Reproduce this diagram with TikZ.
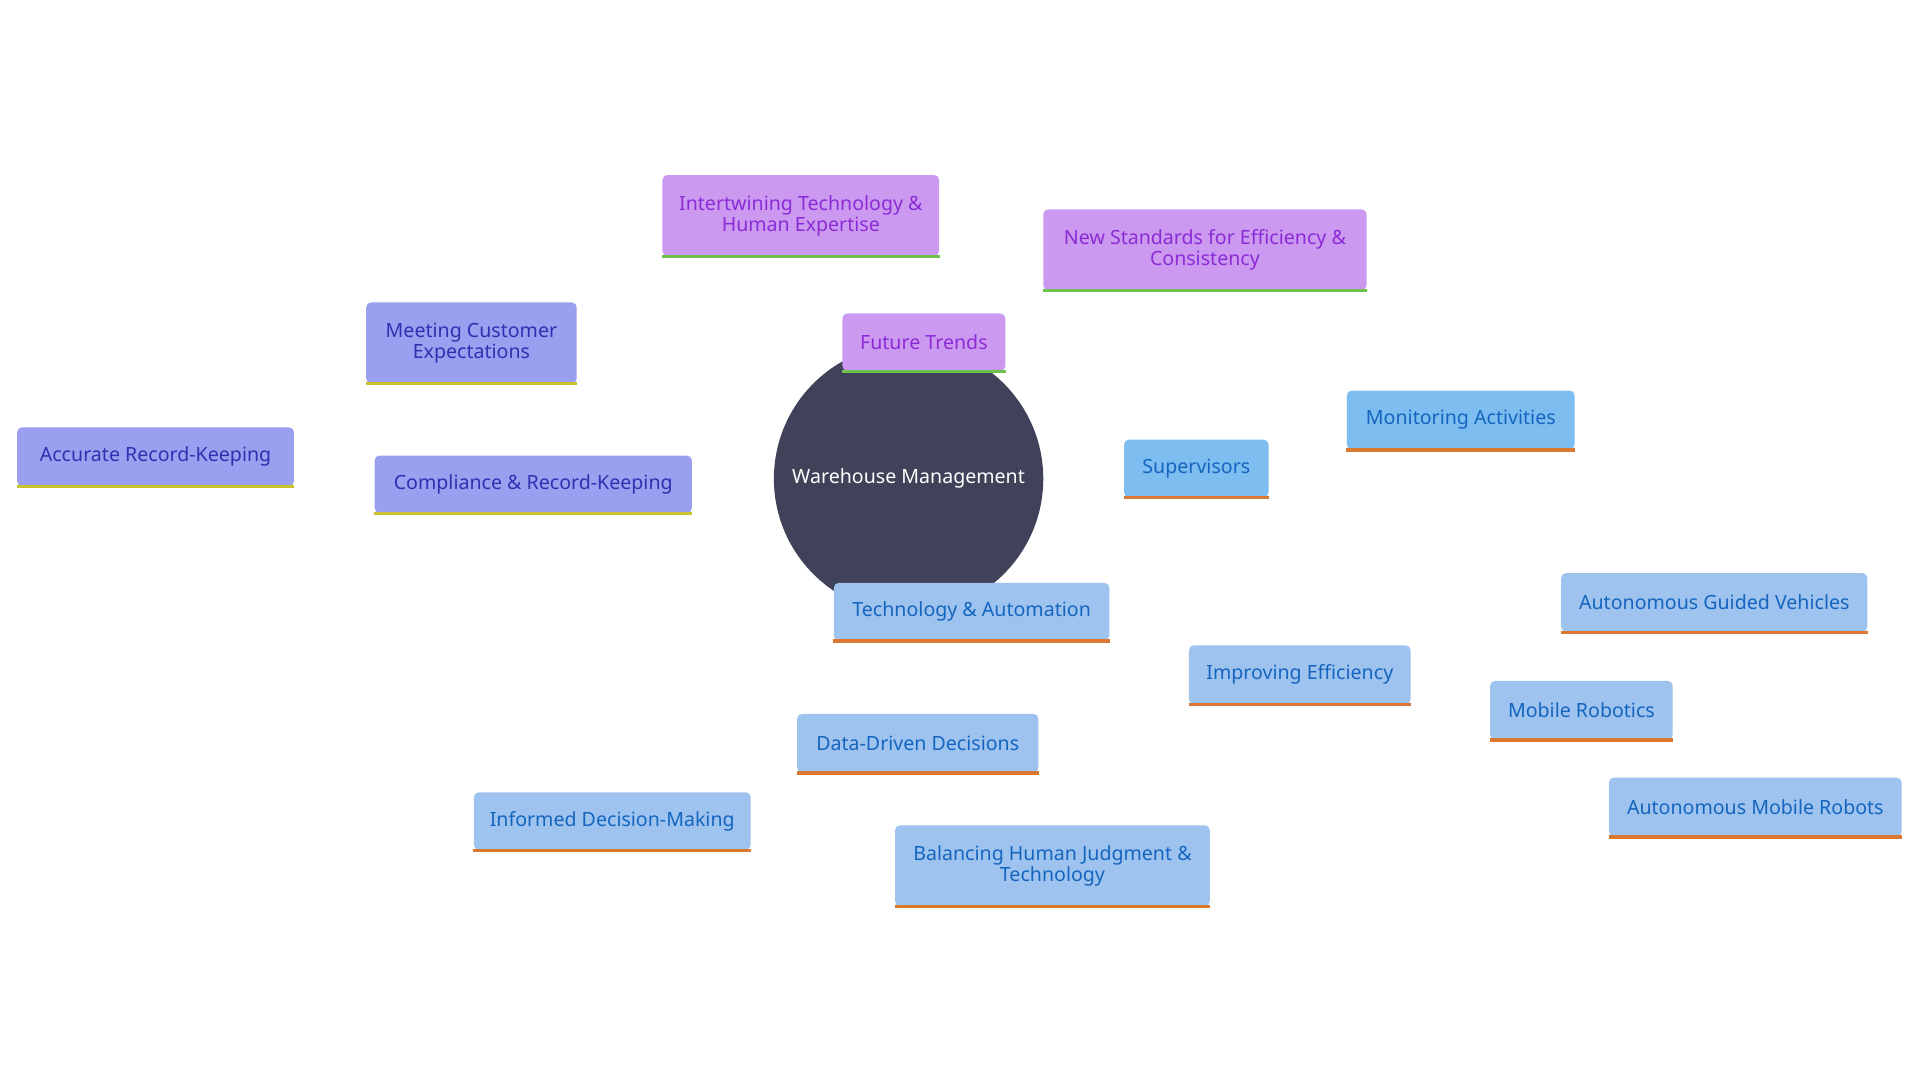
\documentclass[tikz,border=0pt]{standalone}
\usepackage{fontspec}
\setmainfont{Noto Sans}
\usetikzlibrary{backgrounds}
\definecolor{rootfill}{HTML}{3F4259}
\definecolor{purfill}{HTML}{CC99F0}
\definecolor{purtext}{HTML}{8B2BD6}
\definecolor{purline}{HTML}{CDA4F0}
\definecolor{greenbar}{HTML}{6CC24A}
\definecolor{supfill}{HTML}{7DBDEF}
\definecolor{techfill}{HTML}{9DC3EE}
\definecolor{bluetext}{HTML}{1565C0}
\definecolor{orangebar}{HTML}{D9782E}
\definecolor{compfill}{HTML}{9B9FF0}
\definecolor{comptext}{HTML}{3030B0}
\definecolor{yellowbar}{HTML}{C9C22E}

\tikzset{
  box/.style={rectangle, rounded corners=2pt, inner sep=0pt, align=center,
    font=\fontsize{8}{8.6}\selectfont},
  purbox/.style={box, fill=purfill, text=purtext},
  supbox/.style={box, fill=supfill, text=bluetext},
  techbox/.style={box, fill=techfill, text=bluetext},
  compbox/.style={box, fill=compfill, text=comptext},
  link/.style={line width=1.5pt},
  bar/.style={line width=1.4pt}
}

\begin{document}
\begin{tikzpicture}[x=0.5pt,y=-0.5pt]
\useasboundingbox[fill=white] (0,0) rectangle (1568,882);

\node[circle, fill=rootfill, minimum size=110pt, text=white,
  font=\fontsize{8}{9}\selectfont] (root) at (742,391) {Warehouse Management};

% future trends
\node[purbox, minimum width=66.5pt, minimum height=23.5pt] (future) at (754.5,279.5) {Future Trends};
\node[purbox, minimum width=113pt, minimum height=33pt] (inter) at (654,176) {Intertwining Technology \&\\Human Expertise};
\node[purbox, minimum width=132pt, minimum height=33pt] (newstd) at (984,204) {New Standards for Efficiency \&\\Consistency};

% supervisors
\node[supbox, minimum width=59pt, minimum height=23.5pt] (super) at (977,382.5) {Supervisors};
\node[supbox, minimum width=93pt, minimum height=24pt] (monit) at (1193,343) {Monitoring Activities};

% technology
\node[techbox, minimum width=112.5pt, minimum height=23.5pt] (tech) at (793.5,499.5) {Technology \& Automation};
\node[techbox, minimum width=90.5pt, minimum height=24pt] (improv) at (1061.5,551) {Improving Efficiency};
\node[techbox, minimum width=74.5pt, minimum height=24pt] (mobile) at (1291.5,580) {Mobile Robotics};
\node[techbox, minimum width=125pt, minimum height=24pt] (agv) at (1400,492) {Autonomous Guided Vehicles};
\node[techbox, minimum width=119.5pt, minimum height=24pt] (amr) at (1433.5,659) {Autonomous Mobile Robots};
\node[techbox, minimum width=98.5pt, minimum height=24pt] (data) at (749.5,607) {Data-Driven Decisions};
\node[techbox, minimum width=113pt, minimum height=23.5pt] (inform) at (500,670.5) {Informed Decision-Making};
\node[techbox, minimum width=128.5pt, minimum height=33pt] (balance) at (859.5,707) {Balancing Human Judgment \&\\Technology};

% compliance
\node[compbox, minimum width=129.5pt, minimum height=23.5pt] (comp) at (435.5,395.5) {Compliance \& Record-Keeping};
\node[compbox, minimum width=86pt, minimum height=33pt] (meet) at (385,280) {Meeting Customer\\Expectations};
\node[compbox, minimum width=113pt, minimum height=24pt] (accur) at (127,373) {Accurate Record-Keeping};

\begin{scope}[on background layer]
\draw[link, purline] (root) -- (future.south);
\draw[link, purline] (future) -- (inter);
\draw[link, purline] (future) -- (newstd);
\draw[link, supfill] (root) -- (super);
\draw[link, supfill] (super) -- (monit);
\draw[link, techfill] (root) -- (tech);
\draw[link, techfill] (tech) -- (improv);
\draw[link, techfill] (improv) -- (mobile);
\draw[link, techfill] (mobile) -- (agv);
\draw[link, techfill] (mobile) -- (amr);
\draw[link, techfill] (tech) -- (data);
\draw[link, techfill] (data) -- (inform);
\draw[link, techfill] (data) -- (balance);
\draw[link, compfill] (root) -- (comp);
\draw[link, compfill] (comp) -- (meet);
\draw[link, compfill] (comp) -- (accur);
\end{scope}

\foreach \n in {future,inter,newstd}
  \draw[bar, greenbar] (\n.south west) -- (\n.south east);
\foreach \n in {super,monit,tech,improv,mobile,agv,amr,data,inform,balance}
  \draw[bar, orangebar] (\n.south west) -- (\n.south east);
\foreach \n in {comp,meet,accur}
  \draw[bar, yellowbar] (\n.south west) -- (\n.south east);
\end{tikzpicture}
\end{document}
